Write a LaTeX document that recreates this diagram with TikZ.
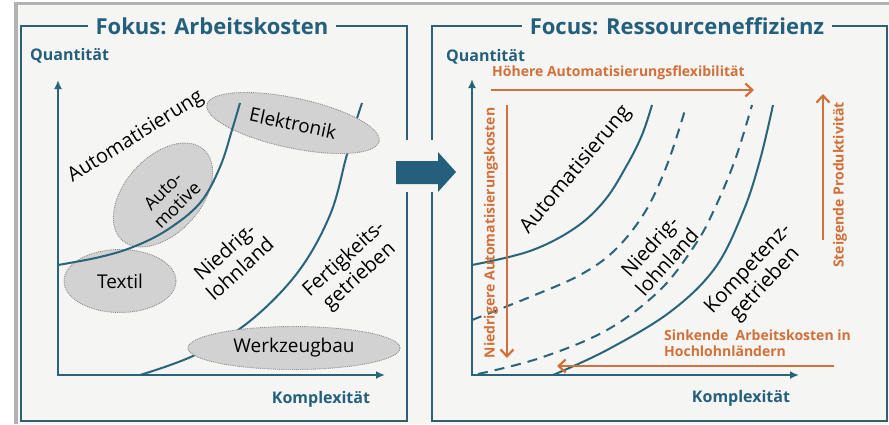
\documentclass[tikz,border=0pt]{standalone}
\usepackage{fontspec}
\setmainfont{Open Sans}
\usetikzlibrary{shapes.geometric,arrows.meta}
\definecolor{bg}{HTML}{F5F5F3}
\definecolor{greyb}{HTML}{B2B2B2}
\definecolor{teal}{HTML}{24607C}
\definecolor{framec}{HTML}{2F5F70}
\definecolor{curvec}{HTML}{2A6479}
\definecolor{ellfill}{HTML}{D2D2D2}
\definecolor{elldraw}{HTML}{8A8A8A}
\definecolor{orng}{HTML}{D2703A}
\tikzset{
  frame/.style={draw=framec, line width=2},
  title/.style={fill=bg, text=teal, font=\fontsize{22}{24}\selectfont\bfseries, inner xsep=8, inner ysep=2},
  axlabel/.style={text=teal, font=\fontsize{16}{18}\selectfont\bfseries, inner sep=0},
  axis/.style={draw=curvec, line width=2, -{Latex[length=9, width=8]}},
  curve/.style={draw=curvec, line width=2},
  dcurve/.style={draw=curvec, line width=2, dash pattern=on 10 off 7},
  ell/.style={ellipse, fill=ellfill, draw=elldraw, densely dotted, line width=0.9, inner sep=0, font=\fontsize{19}{21}\selectfont},
  lbl/.style={font=\fontsize{20}{23}\selectfont, align=center, inner sep=0},
  olbl/.style={text=orng, font=\fontsize{14}{16}\selectfont\bfseries, inner sep=0},
  oarrow/.style={draw=orng, line width=2.2, -{Straight Barb[length=7, width=13, line width=2.2]}},
}
\begin{document}
\begin{tikzpicture}[x=1pt,y=-1pt]
\useasboundingbox (0,0) rectangle (889,424);
\fill[white] (0,0) rectangle (889,424);
\fill[bg] (16,3.5) rectangle (889,424);
\draw[greyb, line width=3.5] (16,424) -- (16,3.5) -- (889,3.5);

% frames
\draw[frame] (21,26) rectangle (407,421);
\draw[frame] (432,26) rectangle (887,421);
\node[title] (t1) at (212,26) {Fokus: Arbeitskosten};
\node[title] (t2) at (677,26) {Focus: Ressourceneffizienz};

% big arrow
\fill[bg] (399,140) rectangle (442,192);
\fill[teal] (396,161) -- (438,161) -- (438,152) -- (456,172) -- (438,192) -- (438,184) -- (396,184) -- cycle;

% ===== left panel =====
\node[axlabel, anchor=west] (q1) at (30,56) {Quantität};
\node[axlabel] (k1) at (321,399) {Komplexität};
\coordinate (o1) at (58,375);
\coordinate (y1) at (58,80);
\coordinate (x1) at (385,375);
\draw[axis] ([yshift=-1]o1) -- (y1);
\draw[axis] ([xshift=-1]o1) -- (x1);

% curve 2 (under ellipses)
\draw[curve] plot[smooth, tension=0.6] coordinates {(140,375) (195,355) (250,321) (298,272) (330,215) (346,158) (355,125) (362,103)};

\node[ell, minimum width=176, minimum height=50, rotate=-12] (elek) at (293,123) {Elektronik};
\node[ell, minimum width=122, minimum height=76, rotate=48] (auto) at (163,195) {};
\node[lbl, rotate=45, font=\fontsize{18}{20}\selectfont] (autot) at (170,198) {Auto-\\motive};
\node[ell, minimum width=112, minimum height=63] (tex) at (120,281) {Textil};
\node[ell, minimum width=212, minimum height=43] (wzb) at (294,348) {Werkzeugbau};

% curve 1 (over ellipses)
\draw[curve] plot[smooth, tension=0.6] coordinates {(58,265) (100,257) (133,247) (167,230) (200,203) (220,167) (232,130) (240,103)};

\node[lbl, rotate=32] (a1) at (136,137) {Automatisierung};
\node[lbl, rotate=42] (n1) at (232,260) {Niedrig-\\lohnland};
\node[lbl, rotate=42] (f1) at (352,268) {Fertigkeits-\\getrieben};

% ===== right panel =====
\node[axlabel, anchor=west] (q2) at (446,57) {Quantität};
\node[axlabel] (k2) at (741,398) {Komplexität};
\coordinate (o2) at (472,375);
\coordinate (y2) at (472,79);
\coordinate (x2) at (799,375);
\draw[axis] ([yshift=-1]o2) -- (y2);
\draw[axis] ([xshift=-1]o2) -- (x2);

\draw[curve] plot[smooth, tension=0.6] coordinates {(472,265) (530,251) (575,228) (605,200) (627,165) (642,135) (652,105)};
\draw[dcurve] plot[smooth, tension=0.6] coordinates {(472,320) (530,297) (580,275) (615,250) (645,212) (667,165) (685,110)};
\draw[dcurve] plot[smooth, tension=0.6] coordinates {(478,374) (540,358) (607,330) (660,290) (695,245) (714,210) (735,160) (752,105)};
\draw[curve] plot[smooth, tension=0.6] coordinates {(553,375) (607,350) (670,312) (715,268) (743,212) (760,160) (773,105)};

\node[lbl, rotate=50, font=\fontsize{20.5}{23}\selectfont] (a2) at (576,170) {Automatisierung};
\node[lbl, rotate=48] (n2) at (658,254) {Niedrig-\\lohnland};
\node[lbl, rotate=47, font=\fontsize{20.5}{23}\selectfont] (kg) at (757,277) {Kompetenz-\\getrieben};

% orange arrows
\coordinate (ha) at (491,90);
\coordinate (hb) at (754,90);
\draw[oarrow] (ha) -- (hb);
\node[olbl, anchor=south west] (ht) at (492,80) {Höhere Automatisierungsflexibilität};

\coordinate (na) at (507,105);
\coordinate (nb) at (507,358);
\draw[oarrow] (na) -- (nb);
\node[olbl, rotate=90] (nt) at (491,233) {Niedrigere Automatisierungskosten};

\coordinate (sa) at (823,240);
\coordinate (sb) at (823,94);
\draw[oarrow] (sa) -- (sb);
\node[olbl, rotate=90] (st) at (840,185) {Steigende Produktivität};

\coordinate (ka) at (834,366);
\coordinate (kb) at (557,366);
\draw[oarrow] (ka) -- (kb);
\node[olbl, anchor=west, align=left, font=\fontsize{14}{15.5}\selectfont\bfseries] (kt) at (664,343) {Sinkende\ \ Arbeitskosten in\\Hochlohnländern};
\end{tikzpicture}
\end{document}
